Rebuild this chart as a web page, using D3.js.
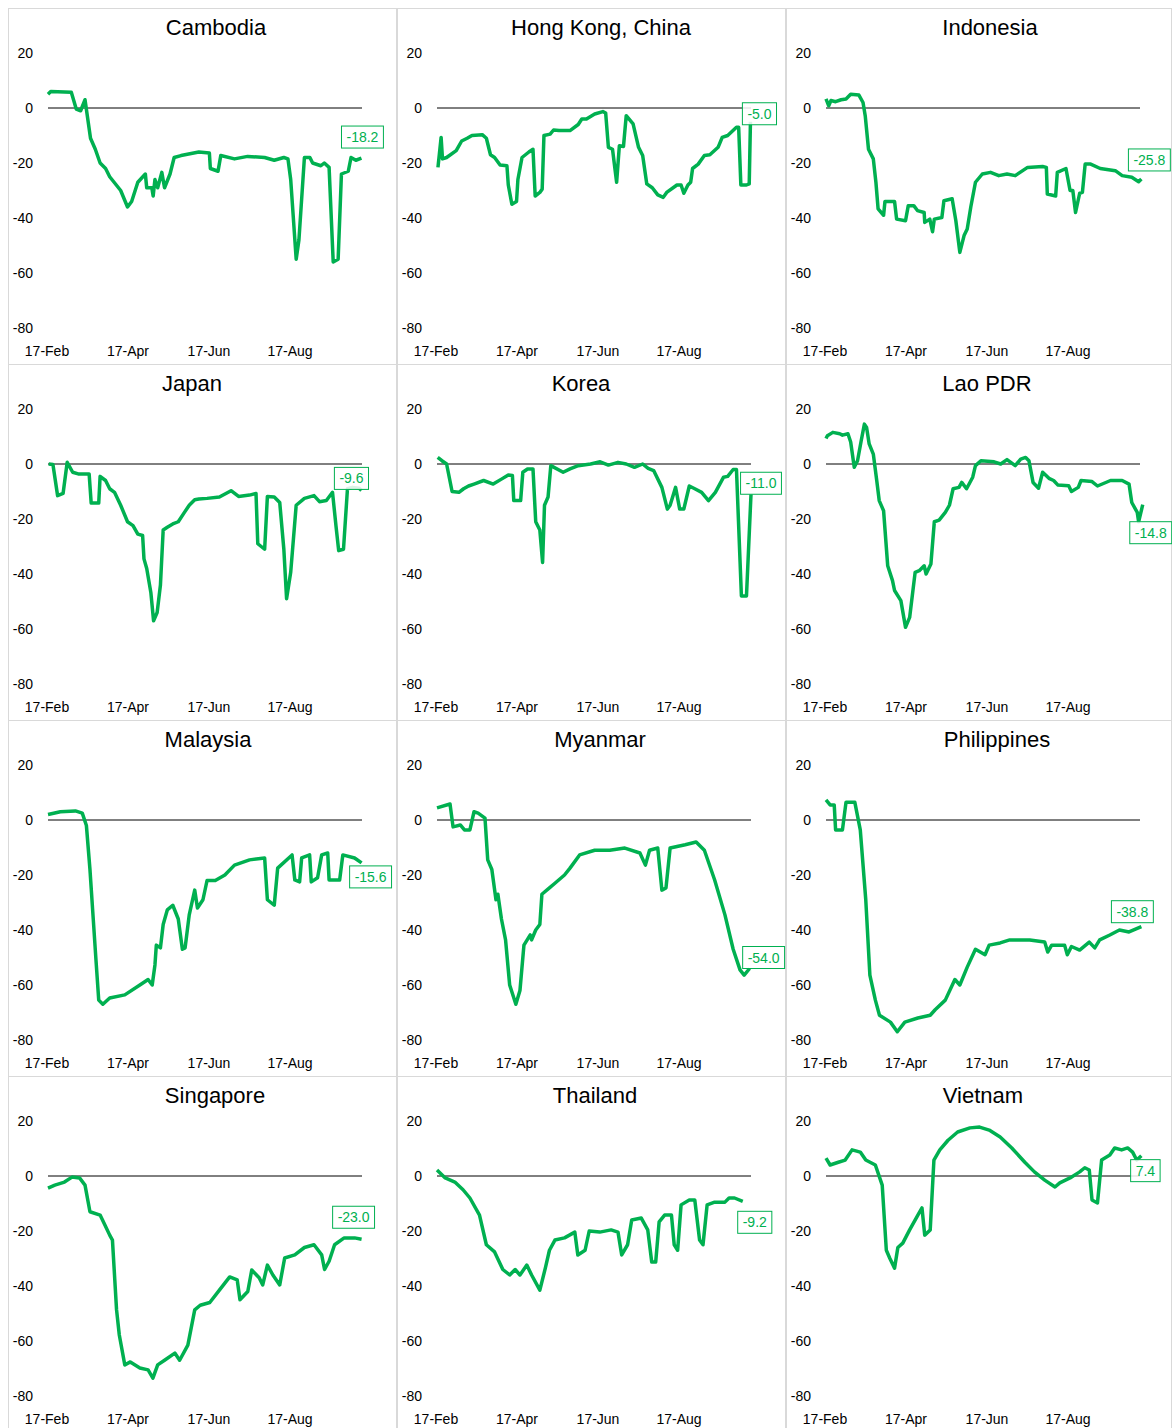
<!DOCTYPE html>
<html>
<head>
<meta charset="utf-8">
<script src="https://cdn.jsdelivr.net/npm/d3@7"></script>
<style>
body { margin:0; background:#fff; }
svg { font-family: "Liberation Sans", Arial, sans-serif; }
</style>
</head>
<body>
<svg id="chart" width="1172" height="1428"></svg>
<script>
// day index (0 = 17-Feb) and value
var cambodia = [[0,5],[2,6],[17,5.7],[20.6,-0.4],[23.8,-1],[27,3],[31,-11],[34.5,-15],[38,-20],[42,-22],[45,-25],[53,-30],[58,-36],[61,-34],[65.5,-27],[71,-24],[72,-29],[75.7,-29],[76.7,-32],[78,-26],[80,-29],[83,-23.4],[85,-29],[89,-24],[92,-18],[97,-17.3],[110,-16],[117.7,-16.4],[118.4,-22],[124,-23],[126,-17.3],[136,-18.5],[145.6,-17.6],[158,-18],[165,-19],[172,-18],[175,-18.5],[177,-26],[181,-55],[183,-48],[187,-18],[191,-18],[193,-20],[199,-21],[201.5,-20],[205,-21.6],[208,-56],[211.6,-55],[214,-24],[219,-23],[221,-18],[224.5,-19],[228.6,-18.2]];
var hongKong = [[0.7,-21.6],[3,-10.7],[4,-18.5],[7,-18],[14,-15.5],[18,-12],[22,-11],[25.5,-10],[33,-9.7],[36,-11],[39,-17],[42,-18],[46,-20.7],[51,-21],[52,-28],[54.6,-35],[58,-34],[59,-26],[62,-18],[67,-16],[70,-15],[71.6,-32],[75,-30.7],[76.7,-29.5],[78,-10],[82.5,-9.5],[85,-8],[89,-8.2],[97,-8.2],[103,-6],[105.6,-4],[109,-4],[115,-2.2],[121,-1.3],[123,-1.8],[125,-14.3],[128,-15],[131,-27],[133,-13.7],[136,-14],[138,-2.8],[143,-5.8],[147,-14.3],[150,-17.3],[153,-27.6],[157,-29],[161,-31.6],[165,-32.5],[167.5,-30.7],[175,-28],[178,-28],[180,-31],[183,-28],[185,-27],[186.4,-22],[190.5,-20.4],[195,-17.3],[199,-17],[205,-14.3],[208,-10.7],[212,-10],[218.4,-7],[220,-7],[221.6,-28],[225.7,-28],[227.7,-27.6],[228.6,-5]];
var indonesia = [[0,3.3],[2,0.8],[3.6,2.7],[7,2.3],[11,3],[14.6,3.3],[18,5],[24,4.7],[27,2],[28.6,-2.8],[31,-15],[34.5,-18.5],[36.4,-27],[38,-36.7],[42,-39],[43,-34],[50,-34],[51.5,-40.4],[58,-41],[60,-35.5],[64,-35.5],[66.7,-37.3],[71.6,-38],[72,-41.6],[75.7,-40.4],[77.7,-45],[79,-40.4],[84.5,-39.8],[86,-33.7],[92,-33],[94.7,-41],[97.6,-52.5],[100.7,-46.4],[103,-44],[105.6,-36],[109,-27],[114,-24],[120,-23.4],[126,-24.6],[132,-24],[138,-24.6],[147,-21.6],[158,-21.3],[160.7,-21.6],[161.4,-31.3],[167.5,-32],[168.7,-23.4],[175,-22],[178,-30],[180,-30],[182,-38],[185,-31],[187,-30.7],[189,-20.4],[193,-20.4],[200,-22],[211,-22.8],[216,-24.6],[223,-25.2],[228,-26.8],[230,-25.8]];
var japan = [[0.5,0],[3.6,-0.2],[7,-11.5],[11,-10.7],[14,0.6],[18,-3],[22,-3.6],[30,-3.6],[31.5,-14.2],[37,-14.2],[38,-4.5],[42,-6],[45,-9],[48.5,-10.3],[53,-15],[58,-21],[62,-22.4],[65.5,-25.5],[69,-26],[70,-34.5],[72,-38],[75,-46.7],[77,-57],[79.6,-54],[82,-44],[84,-24],[87,-23],[91,-21.8],[95,-21],[99.5,-17.6],[103,-15],[107,-13],[110,-12.7],[116,-12.5],[125,-12],[133.5,-9.7],[139,-11.8],[147,-11.3],[151.7,-10.7],[153,-29],[158,-31],[160,-11.8],[165,-12],[169,-14],[172,-31],[174,-49],[177,-39.4],[181,-15],[187,-12.5],[194,-11.5],[198,-13.7],[203,-13.3],[207.5,-10.3],[210,-22.4],[212,-31.5],[215.5,-31],[218.4,-9],[222,-8.5],[227,-8.8],[228.6,-9.6]];
var korea = [[0.5,2.4],[3.6,1.2],[7,0],[11,-10],[16,-10.3],[19.4,-9],[23,-8],[27,-7.3],[34,-6],[41,-7.3],[47,-5.5],[52,-4],[55,-4.2],[56,-13.3],[61,-13.3],[62.6,-3],[66,-1.8],[70,-1.8],[72,-21],[75,-24],[77,-35.8],[78.4,-15],[81,-12],[83,-0.6],[92,-3],[97,-1.8],[103,-0.6],[112,0],[119,0.8],[125,-0.4],[132,0.6],[138,0],[144,-1.2],[150,0],[154,-1.6],[158,-2.4],[164,-8.5],[168,-16.4],[170,-15],[174,-8.5],[177,-16.4],[180,-16.4],[184,-8],[188,-9],[193,-10.3],[198,-13.3],[203,-10.3],[209,-4.8],[212,-4.5],[216,-2],[218.4,-2],[222,-48],[225.7,-48],[229,-11]];
var laoPDR = [[0,9.3],[1,10.3],[5,11.5],[10,11],[12,10.5],[16,11],[18,8],[20.6,-1.2],[23,1.2],[25.5,8],[28,14.5],[29.6,13.3],[31.5,7.3],[34.5,3.6],[37,-6],[38.8,-13.3],[42,-17],[45,-37],[48.5,-42.4],[50,-46],[54.6,-49.7],[58,-59.4],[61,-55.8],[65,-39.4],[68,-38.8],[71.6,-37],[73,-40],[76.5,-36.4],[79,-21],[82.5,-20.4],[87,-17.6],[90,-15],[92.7,-9],[97,-8.5],[99,-6.7],[102.5,-9],[107,-4.8],[109,-0.6],[113,1.2],[122.6,0.8],[127.4,0],[132,1.6],[138,-0.6],[142,1.8],[145.6,2.4],[148,1.2],[151,-6.7],[155,-8.8],[158,-3],[162.6,-5.2],[166,-6],[169,-7.6],[177,-7.9],[179,-10],[184,-8.5],[186,-6],[194,-6.4],[198,-8],[207.5,-6],[216,-6],[221,-7.3],[223,-14],[227,-17.6],[228,-21],[231,-14.8]];
var malaysia = [[0,2],[9,3],[20,3.3],[25,2.5],[28,-2],[30.6,-18],[33,-36],[35,-51],[37,-65.5],[40,-67],[45,-64.7],[56,-63.6],[67,-60],[73,-58],[76,-60],[78,-52.7],[79,-45.5],[82,-46.5],[84,-38],[87,-32.7],[91,-31],[95,-36],[98,-47],[100,-46.5],[103,-34.5],[107,-25.5],[109,-32],[113,-29],[116,-22],[122,-22],[129,-20],[136,-16.4],[147,-14.5],[158,-13.8],[160,-29],[165,-31],[167.5,-17.5],[178,-12.7],[180,-21.8],[183.5,-22.5],[185,-13.8],[190.8,-12.7],[192,-22.5],[196.6,-21],[199.6,-12.7],[204,-12],[205,-21.8],[212.7,-21.8],[215,-12.7],[223.6,-13.8],[228.7,-15.6]];
var myanmar = [[0,4.4],[9.5,5.8],[11.7,-2.5],[17,-1.8],[20,-3.6],[24,-3.6],[27,3],[30,2.5],[35,0.7],[37,-14.5],[40,-18],[43,-29],[44.4,-27],[47,-36],[50,-43.6],[53,-60],[57.5,-67],[60.5,-62],[63.4,-45.5],[68,-41.8],[69,-43.6],[72,-40],[75,-38],[76.5,-27],[82,-24.7],[86,-23],[93,-20],[97,-17.5],[104,-12.7],[115,-11],[126,-11],[137,-10.2],[148,-12],[152,-16.4],[155,-11],[161,-10.2],[164,-25.5],[167,-24.7],[170,-10.2],[181,-9],[189,-8],[195,-11],[202.5,-21.8],[210,-34.5],[216,-47],[221,-54.5],[224,-56.4],[228,-54]];
var philippines = [[0,7.3],[3,5.5],[6,5.5],[7,-3.6],[12,-3.6],[14.6,6.5],[21,6.5],[25,-3.6],[29,-29],[32,-56.4],[36,-65.5],[39,-71],[47,-73.5],[52,-77],[57.5,-73.5],[67,-72],[76,-71],[79.6,-69],[87,-65.5],[94,-58],[97.6,-60],[103,-53.5],[109,-47],[116,-49],[119,-45.5],[127,-44.7],[134,-43.6],[148.6,-43.6],[159.5,-44.4],[161.7,-48],[164.6,-45.5],[174,-45.5],[176,-49],[179,-46],[185,-47.3],[192,-44.4],[196,-46.5],[199.6,-43.6],[207,-41.8],[214,-40],[221,-40.7],[230,-38.8]];
var singapore = [[0,-4.4],[5,-3.3],[12,-2.2],[17.5,-0.4],[23,-0.7],[27,-3.3],[30.6,-13],[38,-14.2],[41.5,-17.8],[45,-21.5],[47,-23.3],[50,-48.7],[52,-57.8],[56,-68.7],[60,-67.6],[67,-69.8],[73,-70.5],[76.5,-73.5],[80,-68.7],[85,-67],[92.5,-64.4],[96,-67],[102,-61.5],[107,-48.7],[111,-47],[118,-46],[125,-41.5],[132.5,-36.7],[138,-37.8],[140,-45],[145.7,-42],[148.6,-34.2],[154,-37],[156.6,-39.6],[160,-32.4],[164,-36],[169,-39.6],[172.6,-29.8],[180,-28.7],[187,-26],[194,-25],[199.6,-28.7],[201.7,-34],[205,-31],[209,-25],[216,-22.5],[223.6,-22.5],[228.7,-23]];
var thailand = [[0,2.2],[6,-0.7],[13,-2.2],[19,-5],[24,-8],[31,-14.2],[36,-25],[42,-27.6],[48,-34],[53,-36],[57,-34],[60.5,-36],[65.5,-32.4],[69,-36],[75,-41.5],[79,-33.5],[82,-27],[86,-23.3],[93,-22.5],[100.5,-20.4],[102.7,-28.7],[108,-27],[111,-20],[118.7,-20.4],[127,-19.6],[132,-20.4],[134.7,-28.7],[139,-25],[142,-16],[149,-15.3],[153.7,-19.6],[156.6,-31.3],[159.5,-31.3],[162,-16.7],[166,-14.2],[171,-14.2],[173,-25],[175.5,-27],[178,-10.5],[184,-8.7],[188,-8.7],[191.5,-23.3],[194,-25],[197,-10.5],[202.5,-9.5],[210,-9.5],[213,-8],[217,-8],[223,-9.2]];
var vietnam = [[0,6.5],[3,4],[9,5],[14,5.8],[19,9.5],[25,8.7],[29,5.8],[36,4],[41,-3.3],[44,-27],[46.6,-30],[50,-33.5],[52.4,-26],[56,-24.4],[61,-19.6],[67,-14.2],[70,-11.6],[72,-21.5],[76,-19.6],[78.7,5.8],[83,9.5],[89,13],[96,16],[105,17.5],[112,17.8],[119,16.7],[127,14.2],[135.5,10.2],[145,5],[152,1.5],[159.5,-1.5],[167,-4],[170.5,-2.5],[178,-0.7],[185,1.5],[188.7,3],[192,2.2],[194,-8.7],[198,-9.8],[201,5.8],[207,7.6],[210.5,10.2],[215.6,9.5],[220,10.2],[223.6,8.7],[226.6,5.8],[230,7.4]];

var countries = ["Cambodia","Hong Kong, China","Indonesia","Japan","Korea","Lao PDR","Malaysia","Myanmar","Philippines","Singapore","Thailand","Vietnam"];
var series = [cambodia,hongKong,indonesia,japan,korea,laoPDR,malaysia,myanmar,philippines,singapore,thailand,vietnam];
var lastValues = ["-18.2","-5.0","-25.8","-9.6","-11.0","-14.8","-15.6","-54.0","-38.8","-23.0","-9.2","7.4"];
var yTicks = [20,0,-20,-40,-60,-80];
var xTickLabels = ["17-Feb","17-Apr","17-Jun","17-Aug"];

// layout only: title centres and label box offsets from the last point
var titleX = [208,204,204,184,184,201,200,203,211,207,198,197];
var labelOffsets = [[1,-21],[9,-8],[8,-19],[-10,-12],[10,-11],[8,28],[9,14],[14,-11],[-9,-15],[-8,-22],[12,21],[4,15]];

var svg = d3.select("#chart");
var green = "#00b050";
var panelW = [389,389,386], panelH = 356;
var colLeft = [8,397,786], rowTop = [8,364,720,1076];

countries.forEach(function(name, i) {
    var c = i % 3, r = Math.floor(i / 3);
    var left = colLeft[c], top = rowTop[r];
    var g = svg.append("g").attr("transform", "translate(" + left + "," + top + ")");

    g.append("rect").attr("x",0.5).attr("y",0.5)
        .attr("width", panelW[c]-1).attr("height", panelH)
        .attr("fill","none").attr("stroke","#d9d9d9");

    var x = d3.scaleLinear().domain([0,229]).range([40, 354]);
    var y = d3.scaleLinear().domain([-80,20]).range([320, 45]);
    var xLab = d3.scalePoint().domain(xTickLabels).range([39, 282]);

    g.append("text").attr("x", titleX[i]).attr("y", 27)
        .attr("text-anchor","middle").attr("font-size", 22).attr("fill","#000")
        .text(name);

    g.selectAll(".yt").data(yTicks).enter().append("text")
        .attr("x", 25).attr("y", function(d){ return y(d) + 5; })
        .attr("text-anchor","end").attr("font-size", 14).attr("fill","#000")
        .text(function(d){ return d; });

    g.selectAll(".xt").data(xTickLabels).enter().append("text")
        .attr("x", function(d){ return xLab(d); }).attr("y", 348)
        .attr("text-anchor","middle").attr("font-size", 14).attr("fill","#000")
        .text(function(d){ return d; });

    g.append("line").attr("x1", x(0)).attr("x2", x(229))
        .attr("y1", y(0)).attr("y2", y(0))
        .attr("stroke","#000").attr("stroke-width",1);

    var data = series[i];
    g.append("path").datum(data)
        .attr("fill","none").attr("stroke",green).attr("stroke-width",3.5)
        .attr("stroke-linejoin","round")
        .attr("d", d3.line().x(function(d){ return x(d[0]); }).y(function(d){ return y(d[1]); }));

    var last = data[data.length-1];
    var cx = x(last[0]) + labelOffsets[i][0], cy = y(last[1]) + labelOffsets[i][1];
    var t = g.append("text").attr("x", cx).attr("y", cy + 5)
        .attr("text-anchor","middle").attr("font-size", 14).attr("fill", green)
        .text(lastValues[i]);
    var w = t.node().getComputedTextLength() + 10;
    g.append("rect")
        .attr("x", cx - w/2).attr("y", cy - 11).attr("width", w).attr("height", 22)
        .attr("fill","#fff").attr("fill-opacity",0.85).attr("stroke", green).attr("stroke-width",1);
    t.raise();
});
</script>
</body>
</html>
